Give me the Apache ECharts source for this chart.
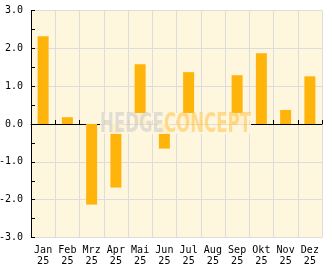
<!DOCTYPE html>
<html><head><meta charset="utf-8">
<script src="https://cdn.jsdelivr.net/npm/echarts@6/dist/echarts.min.js"></script>
<style>html,body{margin:0;padding:0;background:#fff}#c{width:332px;height:269px}</style>
</head><body><div id="c"></div>
<script>
const months = ['Jan','Feb','Mrz','Apr','Mai','Jun','Jul','Aug','Sep','Okt','Nov','Dez'];
const years = ['25','25','25','25','25','25','25','25','25','25','25','25'];
const values = [2.32, 0.18, -2.13, -1.68, 1.58, -0.65, 1.37, 0, 1.29, 1.87, 0.37, 1.26];
const yTicks = [-3, -2, -1, 0, 1, 2, 3];

const wmFont = 'bold 27px "DejaVu Sans Condensed"';
const cv = document.createElement('canvas').getContext('2d');
cv.font = wmFont;
const wmW = cv.measureText('HEDGECONCEPT').width;
const wmScale = 151 / wmW;

const chart = echarts.init(document.getElementById('c'), null, {renderer:'canvas'});
const font = 'DejaVu Sans Mono';
chart.setOption({
  animation: false,
  grid: {left: 31, right: 10, top: 10.5, bottom: 31.5, show: true, backgroundColor: '#FFF6DE', borderWidth: 0,
         containLabel: false, outerBoundsMode: 'none'},
  xAxis: {
    type: 'category',
    data: months.map((m, i) => m + '\n' + years[i]),
    boundaryGap: true,
    axisLine: {lineStyle: {color: '#000', width: 1}},
    axisTick: {show: true, inside: true, length: 4, interval: 0, lineStyle: {color: '#000'}},
    splitLine: {show: true, interval: 0, lineStyle: {color: '#dcdcdc', width: 1}},
    axisLabel: {color: '#000', fontFamily: font, fontSize: 10, lineHeight: 11, margin: 7, interval: 0}
  },
  yAxis: {
    type: 'value',
    min: yTicks[0], max: yTicks[yTicks.length - 1], interval: 1,
    axisLine: {show: true, lineStyle: {color: '#000', width: 1}},
    axisTick: {show: true, inside: true, length: 4, lineStyle: {color: '#000'}},
    minorTick: {show: true, splitNumber: 2, length: 4, lineStyle: {color: '#000'}},
    splitLine: {show: true, lineStyle: {color: '#dcdcdc', width: 1}},
    axisLabel: {color: '#000', fontFamily: font, fontSize: 10, margin: 8, formatter: v => v.toFixed(1)}
  },
  series: [{
    type: 'bar',
    data: values,
    barWidth: 11,
    itemStyle: {color: '#FFB40C'}
  }],
  graphic: [
    {type: 'rect', shape: {x: 100, y: 113, width: 151, height: 21}, style: {fill: 'rgba(255,246,224,0.9)'}, z: 100},
    {type: 'text', x: 100, y: 111, z: 101, scaleX: wmScale, scaleY: 1,
      style: {
        text: '{a|HEDGE}{b|CONCEPT}',
        rich: {
          a: {fontFamily: 'DejaVu Sans Condensed', fontWeight: 'bold', fontSize: 27, fill: 'rgba(200,200,200,0.55)'},
          b: {fontFamily: 'DejaVu Sans Condensed', fontWeight: 'bold', fontSize: 27, fill: 'rgba(255,195,70,0.55)'}
        }
      }
    }
  ]
});
</script></body></html>
